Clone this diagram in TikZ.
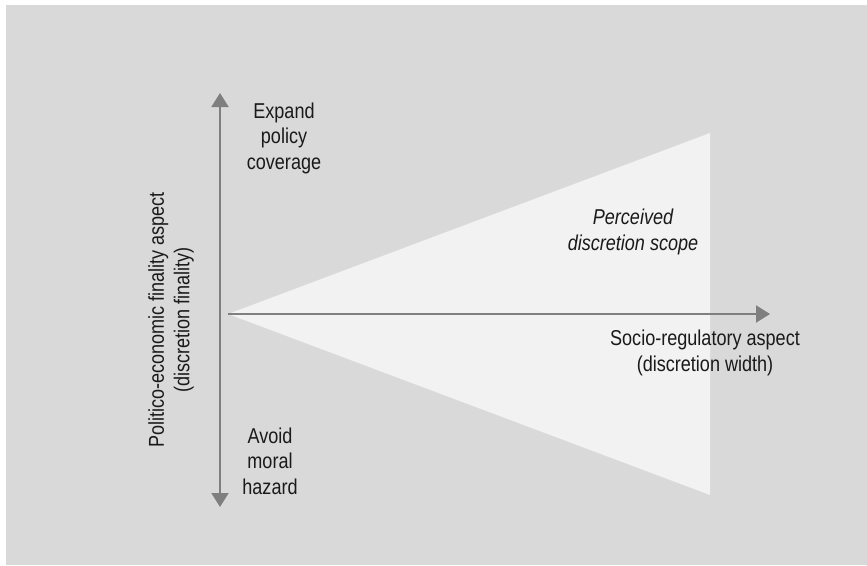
\documentclass[tikz,border=0pt]{standalone}
\usepackage{fontspec}
\setmainfont{Liberation Sans}[FakeStretch=0.84]
\usetikzlibrary{arrows.meta}
\definecolor{Panel}{HTML}{D9D9D9}
\definecolor{Scope}{HTML}{F2F2F2}
\definecolor{Axis}{HTML}{7F7F7F}
\definecolor{Ink}{HTML}{1A1A1A}

\begin{document}
\begin{tikzpicture}[x=1pt,y=-1pt,
  axisarrow/.style={-{Triangle[length=14pt,width=17pt]},line width=2pt,color=Axis},
  twoway/.style={{Triangle[length=14pt,width=17pt]}-{Triangle[length=14pt,width=17pt]},line width=2pt,color=Axis},
  lbl/.style={align=center,text=Ink,inner sep=0pt,font=\fontsize{21.5}{25.5}\selectfont}
]
\useasboundingbox (0,0) rectangle (867,565);
\fill[white] (0,0) rectangle (867,565);
\fill[Panel] (6,5) rectangle (867,565);
\coordinate (apex) at (228,314);
\coordinate (scopetop) at (710,133);
\coordinate (scopebot) at (710,495);
\coordinate (xend) at (770,314);
\coordinate (ytop) at (220,93);
\coordinate (ybot) at (220,507);
\fill[Scope] (apex) -- (scopetop) -- (scopebot) -- cycle;
\draw[axisarrow] (apex) -- (xend);
\draw[twoway] (ybot) -- (ytop);
\node[lbl] (expand) at (284,138) {Expand\\policy\\coverage};
\node[lbl] (avoid) at (270,461) {Avoid\\moral\\hazard};
\node[lbl,font=\fontsize{21.5}{25.5}\selectfont\itshape] (scope) at (633,232) {Perceived\\discretion scope};
\node[lbl] (socio) at (705,353) {Socio-regulatory aspect\\(discretion width)};
\node[lbl,rotate=90] (finality) at (171,320) {Politico-economic finality aspect\\(discretion finality)};
\end{tikzpicture}
\end{document}
